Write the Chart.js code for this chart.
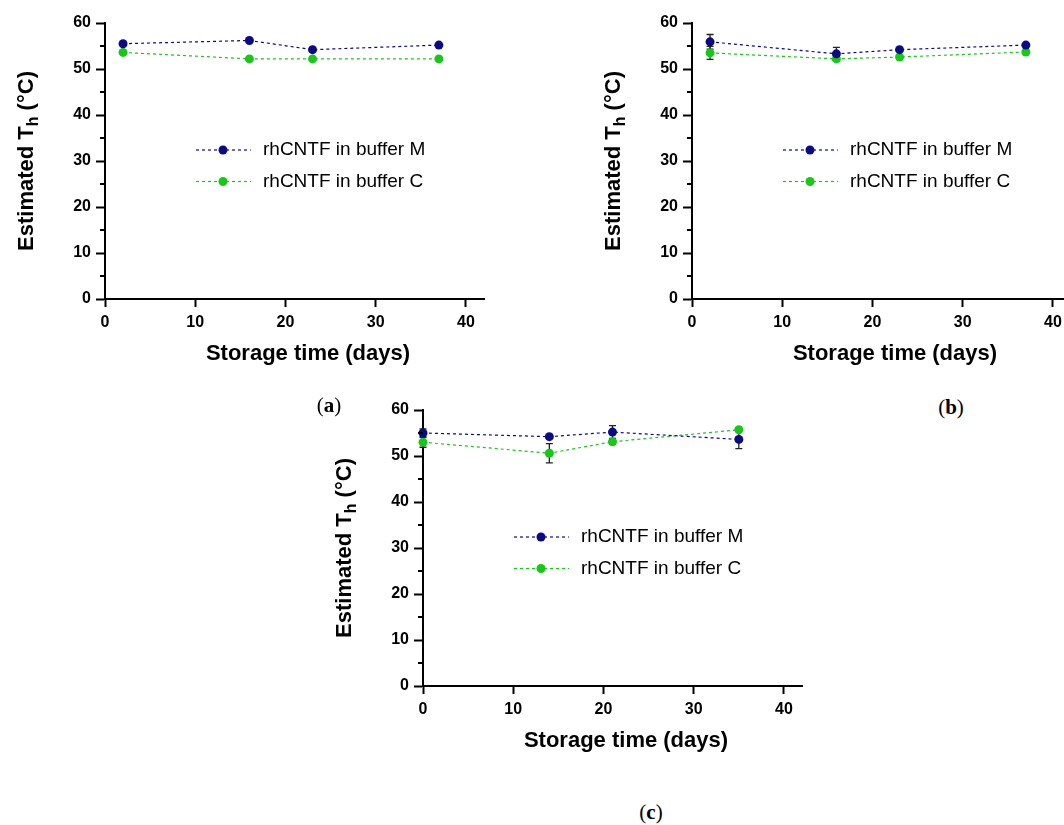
<!DOCTYPE html>
<html lang="en">
<head>
<meta charset="UTF-8">
<title>Estimated Th vs storage time</title>
<script src="https://cdn.jsdelivr.net/npm/chart.js"></script>
<style>
    body { margin: 0; background: #fff; width: 1064px; height: 825px; overflow: hidden; position: relative; }
    canvas { position: absolute; }
    .rotulo { position: absolute; transform: translate(-50%, -50%); font-family: "Liberation Serif", "DejaVu Serif", serif; font-size: 21px; color: #000; }
</style>
</head>
<body>
    <canvas id="graficoA" width="500" height="380" style="left:0px;top:0px"></canvas>
    <canvas id="graficoB" width="500" height="380" style="left:587px;top:0px"></canvas>
    <canvas id="graficoC" width="500" height="380" style="left:318px;top:387px"></canvas>

    <div class="rotulo" style="left:329px;top:405px">(<b>a</b>)</div>
    <div class="rotulo" style="left:951px;top:407px">(<b>b</b>)</div>
    <div class="rotulo" style="left:651px;top:812px">(<b>c</b>)</div>

<script>
    // storage days
    const diasAB = [2, 16, 23, 37];
    const diasC = [0, 14, 21, 35];

    // estimated Th (°C) and SD per panel
    const thM_a = [55.5, 56.2, 54.2, 55.2];
    const thC_a = [53.6, 52.2, 52.2, 52.2];
    const sdM_a = [0, 0, 0, 0];
    const sdC_a = [0, 0, 0, 0];

    const thM_b = [55.9, 53.3, 54.2, 55.2];
    const thC_b = [53.5, 52.2, 52.6, 53.7];
    const sdM_b = [1.6, 1.4, 0, 0];
    const sdC_b = [1.4, 0.5, 0, 0];

    const thM_c = [55.0, 54.2, 55.2, 53.6];
    const thC_c = [53.0, 50.6, 53.1, 55.7];
    const sdM_c = [0.9, 0, 1.4, 2.0];
    const sdC_c = [1.1, 2.1, 0.5, 0.3];

    const ticksX = [0, 10, 20, 30, 40];
    const ticksY = [0, 10, 20, 30, 40, 50, 60];
    const legendas = ['rhCNTF in buffer M', 'rhCNTF in buffer C'];

    const corM = '#0a0a87';
    const corC = '#17c817';
    const fonte = '"Liberation Sans", Arial, sans-serif';

    function pontos(dias, valores) {
        return dias.map((d, i) => ({ x: d, y: valores[i] }));
    }

    function serie(label, dias, valores, erros, cor) {
        return {
            label: label,
            data: pontos(dias, valores),
            erro: erros,
            borderColor: cor,
            borderWidth: 1.2,
            borderDash: [3, 3],
            pointRadius: 4.5,
            pointBackgroundColor: cor,
            pointBorderWidth: 0,
            tension: 0,
            clip: false
        };
    }

    // error bars with caps, under the markers
    const barrasErro = {
        id: 'barrasErro',
        beforeDatasetsDraw(chart) {
            const ctx = chart.ctx;
            const sx = chart.scales.x, sy = chart.scales.y;
            ctx.save();
            ctx.strokeStyle = '#222';
            ctx.lineWidth = 1.3;
            chart.data.datasets.forEach(ds => {
                ds.data.forEach((p, i) => {
                    const e = ds.erro[i];
                    if (!e) return;
                    const px = sx.getPixelForValue(p.x);
                    const top = sy.getPixelForValue(p.y + e);
                    const bot = sy.getPixelForValue(p.y - e);
                    ctx.beginPath();
                    ctx.moveTo(px, top); ctx.lineTo(px, bot);
                    ctx.moveTo(px - 3.5, top); ctx.lineTo(px + 3.5, top);
                    ctx.moveTo(px - 3.5, bot); ctx.lineTo(px + 3.5, bot);
                    ctx.stroke();
                });
            });
            ctx.restore();
        }
    };

    // minor y ticks, axis titles and the legend inside the plot
    const extras = {
        id: 'extras',
        afterDraw(chart) {
            const ctx = chart.ctx;
            const area = chart.chartArea;
            const sy = chart.scales.y;
            const x0 = area.left, y0 = area.bottom;

            ctx.save();
            ctx.strokeStyle = '#000';
            ctx.lineWidth = 2;
            for (let v = 5; v < 60; v += 10) {
                const py = sy.getPixelForValue(v);
                ctx.beginPath();
                ctx.moveTo(x0 - 5, py);
                ctx.lineTo(x0, py);
                ctx.stroke();
            }

            ctx.fillStyle = '#000';
            ctx.textAlign = 'center';
            ctx.textBaseline = 'middle';
            ctx.font = 'bold 22px ' + fonte;
            ctx.fillText('Storage time (days)', x0 + 203, y0 + 55);

            // rotated y title with subscript h
            ctx.save();
            ctx.translate(x0 - 80, y0 - 138);
            ctx.rotate(-Math.PI / 2);
            const p1 = 'Estimated T', p2 = 'h', p3 = ' (°C)';
            ctx.font = 'bold 22px ' + fonte;
            const w1 = ctx.measureText(p1).width, w3 = ctx.measureText(p3).width;
            ctx.font = 'bold 16px ' + fonte;
            const w2 = ctx.measureText(p2).width;
            let cx = -(w1 + w2 + w3) / 2;
            ctx.textAlign = 'left';
            ctx.textBaseline = 'alphabetic';
            ctx.font = 'bold 22px ' + fonte;
            ctx.fillText(p1, cx, 8);
            cx += w1;
            ctx.font = 'bold 16px ' + fonte;
            ctx.fillText(p2, cx, 13);
            cx += w2;
            ctx.font = 'bold 22px ' + fonte;
            ctx.fillText(p3, cx, 8);
            ctx.restore();

            // legend
            const linhas = [y0 - 149, y0 - 117.5];
            chart.data.datasets.forEach((ds, i) => {
                const ly = linhas[i];
                ctx.strokeStyle = ds.borderColor;
                ctx.lineWidth = 1.2;
                ctx.setLineDash([3, 3]);
                ctx.beginPath();
                ctx.moveTo(x0 + 91, ly);
                ctx.lineTo(x0 + 146, ly);
                ctx.stroke();
                ctx.setLineDash([]);
                ctx.fillStyle = ds.borderColor;
                ctx.beginPath();
                ctx.arc(x0 + 118, ly, 4.5, 0, Math.PI * 2);
                ctx.fill();
                ctx.fillStyle = '#000';
                ctx.font = '19px ' + fonte;
                ctx.textAlign = 'left';
                ctx.textBaseline = 'middle';
                ctx.fillText(legendas[i], x0 + 158, ly);
            });
            ctx.restore();
        }
    };

    function criarGrafico(id, dias, mM, mC, eM, eC) {
        const ctx = document.getElementById(id).getContext('2d');
        return new Chart(ctx, {
            type: 'line',
            data: {
                datasets: [
                    serie(legendas[0], dias, mM, eM, corM),
                    serie(legendas[1], dias, mC, eC, corC)
                ]
            },
            options: {
                responsive: false,
                animation: false,
                layout: { padding: { top: 23, right: 16, left: 0, bottom: 0 } },
                plugins: {
                    legend: { display: false },
                    tooltip: { enabled: false }
                },
                scales: {
                    x: {
                        type: 'linear',
                        min: 0,
                        max: 42,
                        afterBuildTicks: s => { s.ticks = ticksX.map(v => ({ value: v })); },
                        afterFit: s => { s.height = 81; },
                        ticks: { color: '#000', padding: 6, maxRotation: 0, font: { family: fonte, size: 16, weight: 'bold' } },
                        grid: { drawOnChartArea: false, tickLength: 8, tickColor: '#000', tickWidth: 2 },
                        border: { color: '#000', width: 2 }
                    },
                    y: {
                        min: 0,
                        max: 60,
                        afterBuildTicks: s => { s.ticks = ticksY.map(v => ({ value: v })); },
                        afterFit: s => { s.width = 105; },
                        ticks: { color: '#000', padding: 5, font: { family: fonte, size: 16, weight: 'bold' } },
                        grid: { drawOnChartArea: false, tickLength: 9, tickColor: '#000', tickWidth: 2 },
                        border: { color: '#000', width: 2 }
                    }
                }
            },
            plugins: [barrasErro, extras]
        });
    }

    criarGrafico('graficoA', diasAB, thM_a, thC_a, sdM_a, sdC_a);
    criarGrafico('graficoB', diasAB, thM_b, thC_b, sdM_b, sdC_b);
    criarGrafico('graficoC', diasC, thM_c, thC_c, sdM_c, sdC_c);
</script>
</body>
</html>
